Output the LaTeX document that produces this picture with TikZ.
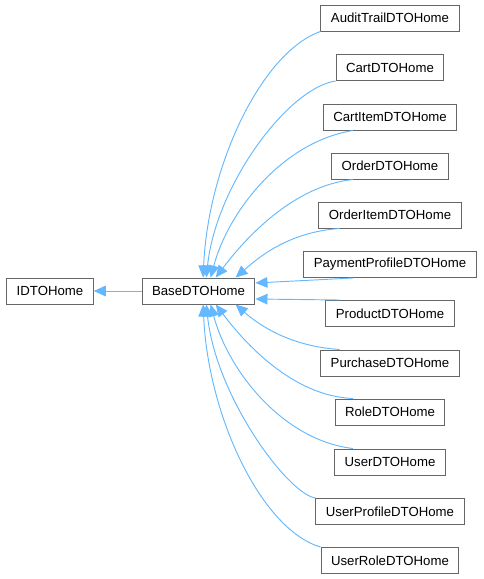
\documentclass[tikz,border=0pt]{standalone}
\usepackage{fontspec}
\setmainfont{Liberation Sans}
\usepackage{xcolor}
\usetikzlibrary{arrows.meta}
\definecolor{edgeblue}{HTML}{63B8FF}
\definecolor{boxgray}{HTML}{666666}

\begin{document}
\begin{tikzpicture}[x=0.75pt, y=-0.75pt, font=\fontsize{9.9pt}{11pt}\selectfont,
  classbox/.style={draw=boxgray, line width=0.75pt, fill=white, minimum height=19.5pt, inner xsep=7.5pt, inner ysep=0pt},
  arrow/.style={draw=edgeblue, line width=0.7pt, -{Triangle[width=8pt, length=9pt]}, fill=none}]
\useasboundingbox (0,0) rectangle (483,579);
\node[classbox] (idtohome) at (50,291) {IDTOHome};
\node[classbox] (base) at (198.5,291) {BaseDTOHome};
\node[classbox] (audit) at (390,18) {AuditTrailDTOHome};
\node[classbox] (cart) at (390,67.5) {CartDTOHome};
\node[classbox] (cartitem) at (390,117) {CartItemDTOHome};
\node[classbox] (order) at (390,166) {OrderDTOHome};
\node[classbox] (orderitem) at (390,215) {OrderItemDTOHome};
\node[classbox] (payment) at (390,264.5) {PaymentProfileDTOHome};
\node[classbox] (product) at (390,313.5) {ProductDTOHome};
\node[classbox] (purchase) at (390,363) {PurchaseDTOHome};
\node[classbox] (role) at (390,412) {RoleDTOHome};
\node[classbox] (user) at (390,462) {UserDTOHome};
\node[classbox] (userprofile) at (390,511.5) {UserProfileDTOHome};
\node[classbox] (userrole) at (390,560.5) {UserRoleDTOHome};
% base class
\draw[arrow] (base.west) -- (idtohome.east);
% derived classes above
\draw[arrow] (audit.south west) .. controls (262,52) and (208,165) .. (base.71);
\draw[arrow] (cart.south west) .. controls (288,88) and (216,185) .. (base.60);
\draw[arrow] (cartitem.200) .. controls (282,142) and (228,212) .. (base.48);
\draw[arrow] (order.200) .. controls (292,186) and (244,240) .. (base.38);
\draw[arrow] (orderitem.195) .. controls (288,232) and (258,258) .. (base.20);
\draw[arrow] (payment.200) -- (base.8);
% derived classes below
\draw[arrow] (product.165) -- (base.-8);
\draw[arrow] (purchase.165) .. controls (288,346) and (258,324) .. (base.-20);
\draw[arrow] (role.160) .. controls (292,396) and (244,342) .. (base.-38);
\draw[arrow] (user.160) .. controls (282,440) and (228,370) .. (base.-48);
\draw[arrow] (userprofile.north west) .. controls (288,494) and (216,397) .. (base.-60);
\draw[arrow] (userrole.north west) .. controls (262,530) and (208,417) .. (base.-71);
\end{tikzpicture}
\end{document}
